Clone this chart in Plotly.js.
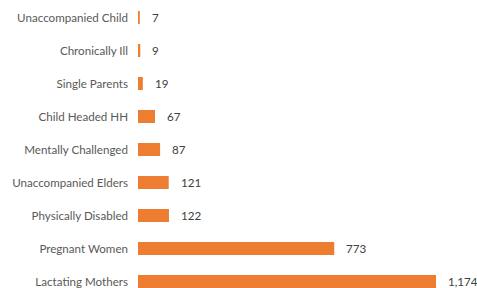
<!DOCTYPE html>
<html><head><meta charset="utf-8">
<script src="https://cdn.plot.ly/plotly-3.0.1.min.js"></script>
<style>html,body{margin:0;padding:0;background:#fff;overflow:hidden}#c{width:477px;height:288px}</style>
</head><body><div id="c"></div>
<script>
const categories = ["Unaccompanied Child","Chronically Ill","Single Parents","Child Headed HH","Mentally Challenged","Unaccompanied Elders","Physically Disabled","Pregnant Women","Lactating Mothers"];
const values = [7, 9, 19, 67, 87, 121, 122, 773, 1174];
const labels = values.map(v => v.toLocaleString("en-US"));

const font = "Lato, 'Liberation Sans', sans-serif";
const trace = {
  type: "bar", orientation: "h",
  x: values, y: categories,
  marker: {color: "#ED7D31"},
  hoverinfo: "none"
};
const annotations = values.map((v, i) => ({
  x: v, y: categories[i], xref: "x", yref: "y",
  text: labels[i], showarrow: false, xanchor: "left", xshift: 10,
  font: {family: font, size: 11.6, color: "#404040"}
}));
const layout = {
  width: 477, height: 288,
  margin: {l: 138, r: 0, t: 1, b: 0},
  paper_bgcolor: "#fff", plot_bgcolor: "#fff",
  bargap: 0.606,
  showlegend: false,
  xaxis: {range: [0, 1335.5], visible: false, showgrid: false, zeroline: false},
  yaxis: {type: "category", range: [8.197, -0.5], showgrid: false, zeroline: false, showline: false,
          ticks: "", ticklabelstandoff: 9,
          tickfont: {family: font, size: 11.6, color: "#595959"}},
  annotations: annotations
};
Plotly.newPlot("c", [trace], layout, {displayModeBar: false, staticPlot: true});
</script></body></html>
